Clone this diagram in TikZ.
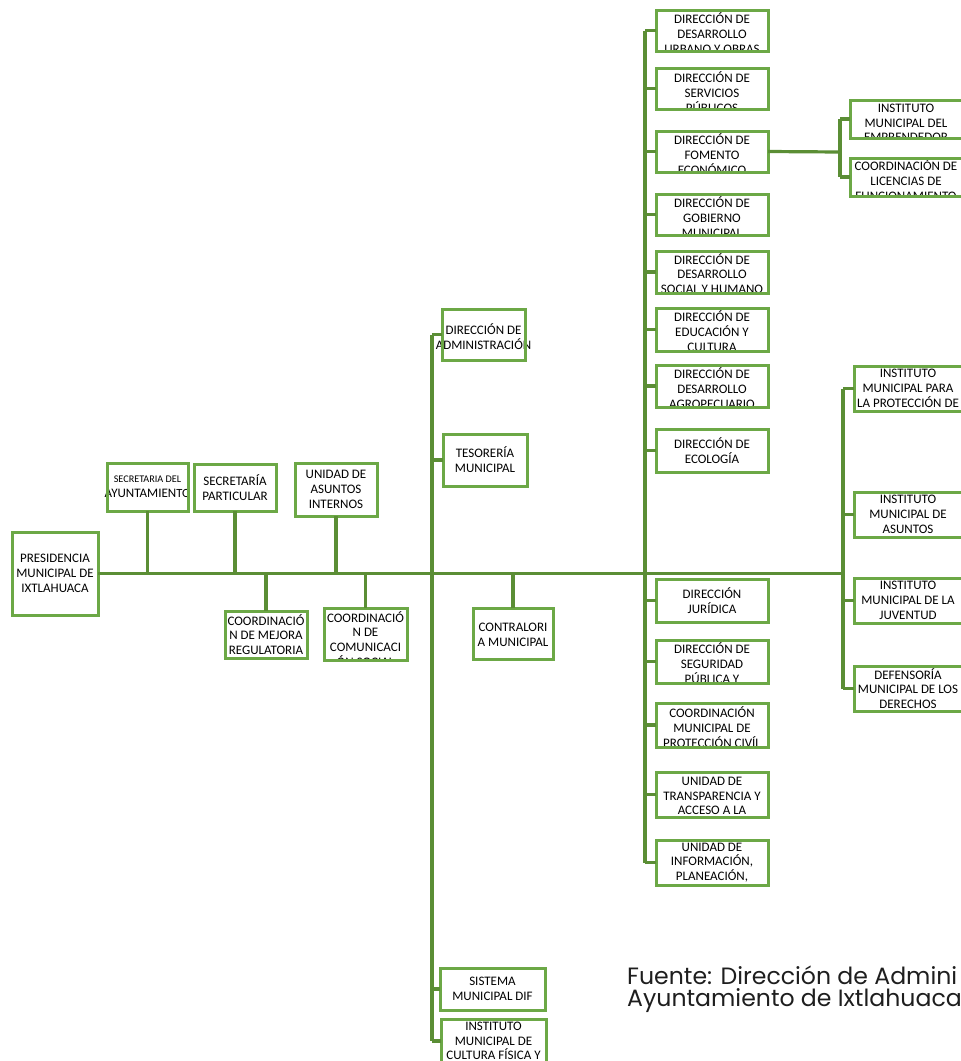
\documentclass[tikz,border=0pt]{standalone}
\usepackage{fontspec}
\setmainfont{Carlito}
\newfontfamily\fuentefont{Poppins}
\usetikzlibrary{calc}
\definecolor{connc}{HTML}{5B8E35}
\definecolor{boxc}{HTML}{6CA846}
\definecolor{fuentec}{HTML}{1E1E1E}
\tikzset{
  boxfill/.style={fill=white, inner sep=0pt, outer sep=0pt, anchor=north west},
  boxline/.style={draw=boxc, line width=3pt},
  boxtext/.style={align=center, font=\fontsize{13}{14.8}\selectfont, inner sep=0pt, text=black},
  conn/.style={draw=connc, line width=3.2pt},
  mainconn/.style={draw=connc, line width=3.8pt},
  fuente/.style={anchor=base west, inner sep=0pt, text=fuentec, font=\fuentefont\fontsize{23.6}{24}\selectfont}
}
% #1 yshift, #2 name, #3 x1, #4 y1, #5 x2, #6 y2, #7 text
\newcommand{\obox}[7][0]{%
  \node[boxfill, minimum width={(#5-#3)*1pt}, minimum height={(#6-#4)*1pt}] (#2) at (#3,#4) {};
  \begin{scope}
    \clip (#3-40,#4) rectangle (#5+40,#6);
    \node[boxtext] (#2-t) at ($(#2.center)+(0,#1)$) {#7};
  \end{scope}
  \draw[boxline] (#2.north west) rectangle (#2.south east);
}
\begin{document}
\begin{tikzpicture}[x=1pt,y=-1pt]
\useasboundingbox (0,0) rectangle (961,1061);

% left part
\obox{pres}{12}{532}{98}{615}{PRESIDENCIA\\MUNICIPAL DE\\IXTLAHUACA}
\obox{sa}{107}{463}{188}{511}{\fontsize{10.2}{13}\selectfont SECRETARIA DEL\\AYUNTAMIEN{\fontsize{12.5}{13}\selectfont TO}}
\obox{sp}{194}{464}{276}{511}{SECRETARÍA\\PARTICULAR}
\obox{ua}{295}{463}{377}{516}{UNIDAD DE\\ASUNTOS\\INTERNOS}
\obox{cm}{225}{611}{307}{658}{COORDINACIÓ\\N DE MEJORA\\REGULATORIA}
\obox[5]{cs}{324}{608}{407}{660}{COORDINACIÓ\\N DE\\COMUNICACI\\ÓN SOCIAL}
\obox[2]{da}{442}{309}{525}{360}{DIRECCIÓN DE\\ADMINISTRACIÓN}
\obox{ts}{443}{434}{527}{486}{TESORERÍA\\MUNICIPAL}
\obox[1]{ct}{473}{608}{553}{659}{CONTRALORI\\A MUNICIPAL}
\obox{dif}{440}{968}{545}{1010}{SISTEMA\\MUNICIPAL DIF}
\obox{cf}{441}{1019}{546}{1063}{INSTITUTO\\MUNICIPAL DE\\CULTURA FÍSICA Y}

% right column
\obox[2.5]{r1}{656}{10}{768}{51}{DIRECCIÓN DE\\DESARROLLO\\URBANO Y OBRAS}
\obox[3.5]{r2}{656}{68}{768}{109}{DIRECCIÓN DE\\SERVICIOS\\PÚBLICOS}
\obox[2.5]{r3}{656}{131}{768}{172}{DIRECCIÓN DE\\FOMENTO\\ECONÓMICO}
\obox[2.5]{r4}{656}{194}{768}{235}{DIRECCIÓN DE\\GOBIERNO\\MUNICIPAL}
\obox[1.5]{r5}{656}{251}{768}{293}{DIRECCIÓN DE\\DESARROLLO\\SOCIAL Y HUMANO}
\obox[1.5]{r6}{656}{308}{768}{351}{DIRECCIÓN DE\\EDUCACIÓN Y\\CULTURA}
\obox[2]{r7}{656}{365}{768}{407}{DIRECCIÓN DE\\DESARROLLO\\AGROPECUARIO}
\obox{r8}{656}{429}{768}{472}{DIRECCIÓN DE\\ECOLOGÍA}
\obox{r9}{656}{579}{768}{622}{DIRECCIÓN\\JURÍDICA}
\obox[1.5]{r10}{656}{640}{768}{683}{DIRECCIÓN DE\\SEGURIDAD\\PÚBLICA Y}
\obox[2]{r11}{656}{703}{768}{747}{COORDINACIÓN\\MUNICIPAL DE\\PROTECCIÓN CIVÍL}
\obox[1.5]{r12}{656}{772}{768}{817}{UNIDAD DE\\TRANSPARENCIA Y\\ACCESO A LA}
\obox{r13}{656}{840}{768}{885}{UNIDAD DE\\INFORMACIÓN,\\PLANEACIÓN,}

% far right
\obox[4]{f1}{850}{100}{962}{138}{INSTITUTO\\MUNICIPAL DEL\\EMPRENDEDOR}
\obox[3]{f2}{850}{158}{962}{196}{COORDINACIÓN DE\\LICENCIAS DE\\FUNCIONAMIENTO}
\obox{g1}{854}{366}{962}{411}{INSTITUTO\\MUNICIPAL PARA\\LA PROTECCIÓN DE}
\obox{g2}{854}{492}{962}{537}{INSTITUTO\\MUNICIPAL DE\\ASUNTOS}
\obox{g3}{854}{578}{962}{623}{INSTITUTO\\MUNICIPAL DE LA\\JUVENTUD}
\obox{g4}{854}{666}{962}{711}{DEFENSORÍA\\MUNICIPAL DE LOS\\DERECHOS}

% junction coordinates
\coordinate (hub) at (432,573.5);
\coordinate (spR) at (645,573.5);
\coordinate (spF) at (843,573.5);
\coordinate (fj) at (840,152);

% main line
\draw[mainconn] (pres.east) -- (spF);
% upper / lower branches of main line
\foreach \n in {sa,sp,ua} \draw[conn] (\n.south) -- (\n.south |- hub);
\foreach \n in {cm,cs,ct} \draw[conn] (\n.north) -- (\n.north |- hub);
% central spine
\draw[conn] (da.west -| hub) -- (cf.west -| hub);
\foreach \n in {da,ts,dif,cf} \draw[conn] (\n.west) -- (\n.west -| hub);
% right column spine
\draw[conn] (r1.west -| spR) -- (r13.west -| spR);
\foreach \n in {r1,r2,r3,r4,r5,r6,r7,r8,r9,r10,r11,r12,r13} \draw[conn] (\n.west) -- (\n.west -| spR);
% fomento branch
\draw[conn] (r3.east) -- (fj);
\draw[conn] (f1.west -| fj) -- (f2.west -| fj);
\foreach \n in {f1,f2} \draw[conn] (\n.west) -- (\n.west -| fj);
% far right spine
\draw[conn] (g1.west -| spF) -- (g4.west -| spF);
\foreach \n in {g1,g2,g3,g4} \draw[conn] (\n.west) -- (\n.west -| spF);

% source text
\node[fuente] (fu1) at (627,984) {Fuente: Dirección de Admini};
\node[fuente] (fu2) at (627,1006) {Ayuntamiento de Ixtlahuaca};
\end{tikzpicture}
\end{document}
